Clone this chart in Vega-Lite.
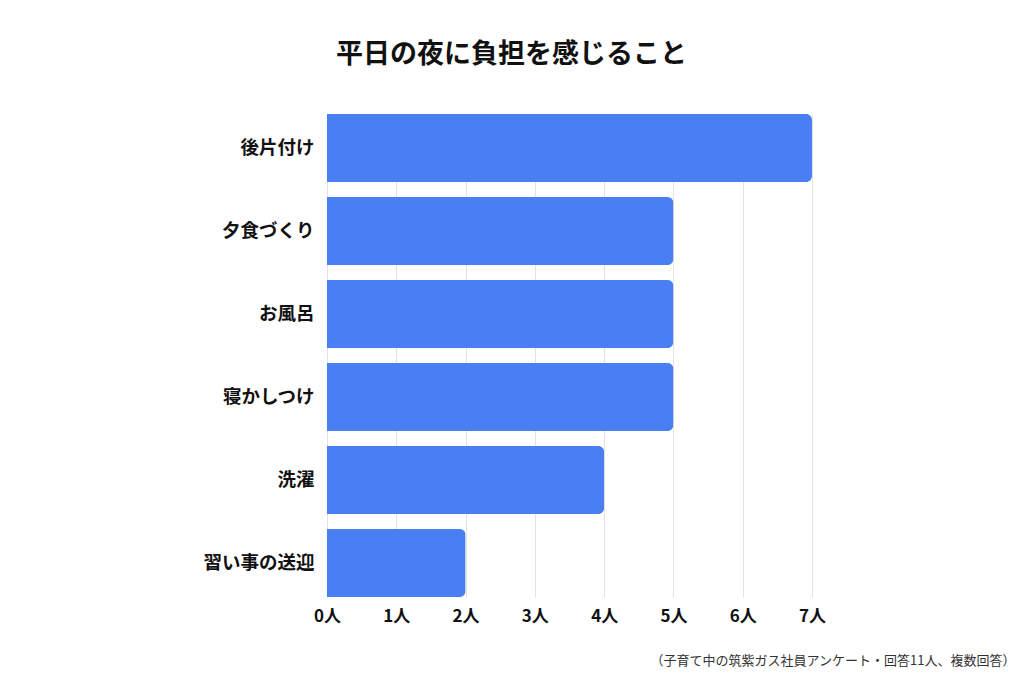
{
  "$schema": "https://vega.github.io/schema/vega-lite/v6.json",
  "autosize": "none",
  "width": 485,
  "height": 483,
  "padding": {"left": 327, "top": 114, "right": 212, "bottom": 86},
  "background": "white",
  "config": {"view": {"stroke": null}},
  "title": {
    "text": "平日の夜に負担を感じること",
    "font": "Noto Sans CJK JP",
    "fontSize": 27,
    "fontWeight": "bold",
    "color": "#111111",
    "anchor": "middle",
    "dx": -58,
    "offset": 45
  },
  "data": {
    "values": [
      {"item": "後片付け", "count": 7},
      {"item": "夕食づくり", "count": 5},
      {"item": "お風呂", "count": 5},
      {"item": "寝かしつけ", "count": 5},
      {"item": "洗濯", "count": 4},
      {"item": "習い事の送迎", "count": 2}
    ]
  },
  "mark": {"type": "bar", "color": "#4a7ef3", "cornerRadiusEnd": 6},
  "encoding": {
    "y": {
      "field": "item",
      "type": "nominal",
      "sort": null,
      "scale": {"paddingInner": 0.18, "paddingOuter": 0},
      "axis": {
        "title": null,
        "ticks": false,
        "domain": false,
        "labelPadding": 13,
        "labelFont": "Noto Sans CJK JP",
        "labelFontSize": 18.5,
        "labelFontWeight": "bold",
        "labelColor": "#111111"
      }
    },
    "x": {
      "field": "count",
      "type": "quantitative",
      "scale": {"domain": [0, 7], "nice": false},
      "axis": {
        "values": [0, 1, 2, 3, 4, 5, 6, 7],
        "labelExpr": "datum.value + '人'",
        "labelFlush": false,
        "ticks": false,
        "domain": false,
        "grid": true,
        "gridColor": "#e3e3e3",
        "labelPadding": 11,
        "labelFont": "Noto Sans CJK JP",
        "labelFontSize": 17,
        "labelFontWeight": "bold",
        "labelColor": "#111111",
        "title": "（子育て中の筑紫ガス社員アンケート・回答11人、複数回答）",
        "titleFont": "Noto Sans CJK JP",
        "titleFontSize": 13,
        "titleFontWeight": "normal",
        "titleColor": "#333333",
        "titleAnchor": "end",
        "titleAlign": "right",
        "titleBaseline": "middle",
        "titleX": 688,
        "titleY": 63
      }
    }
  }
}
